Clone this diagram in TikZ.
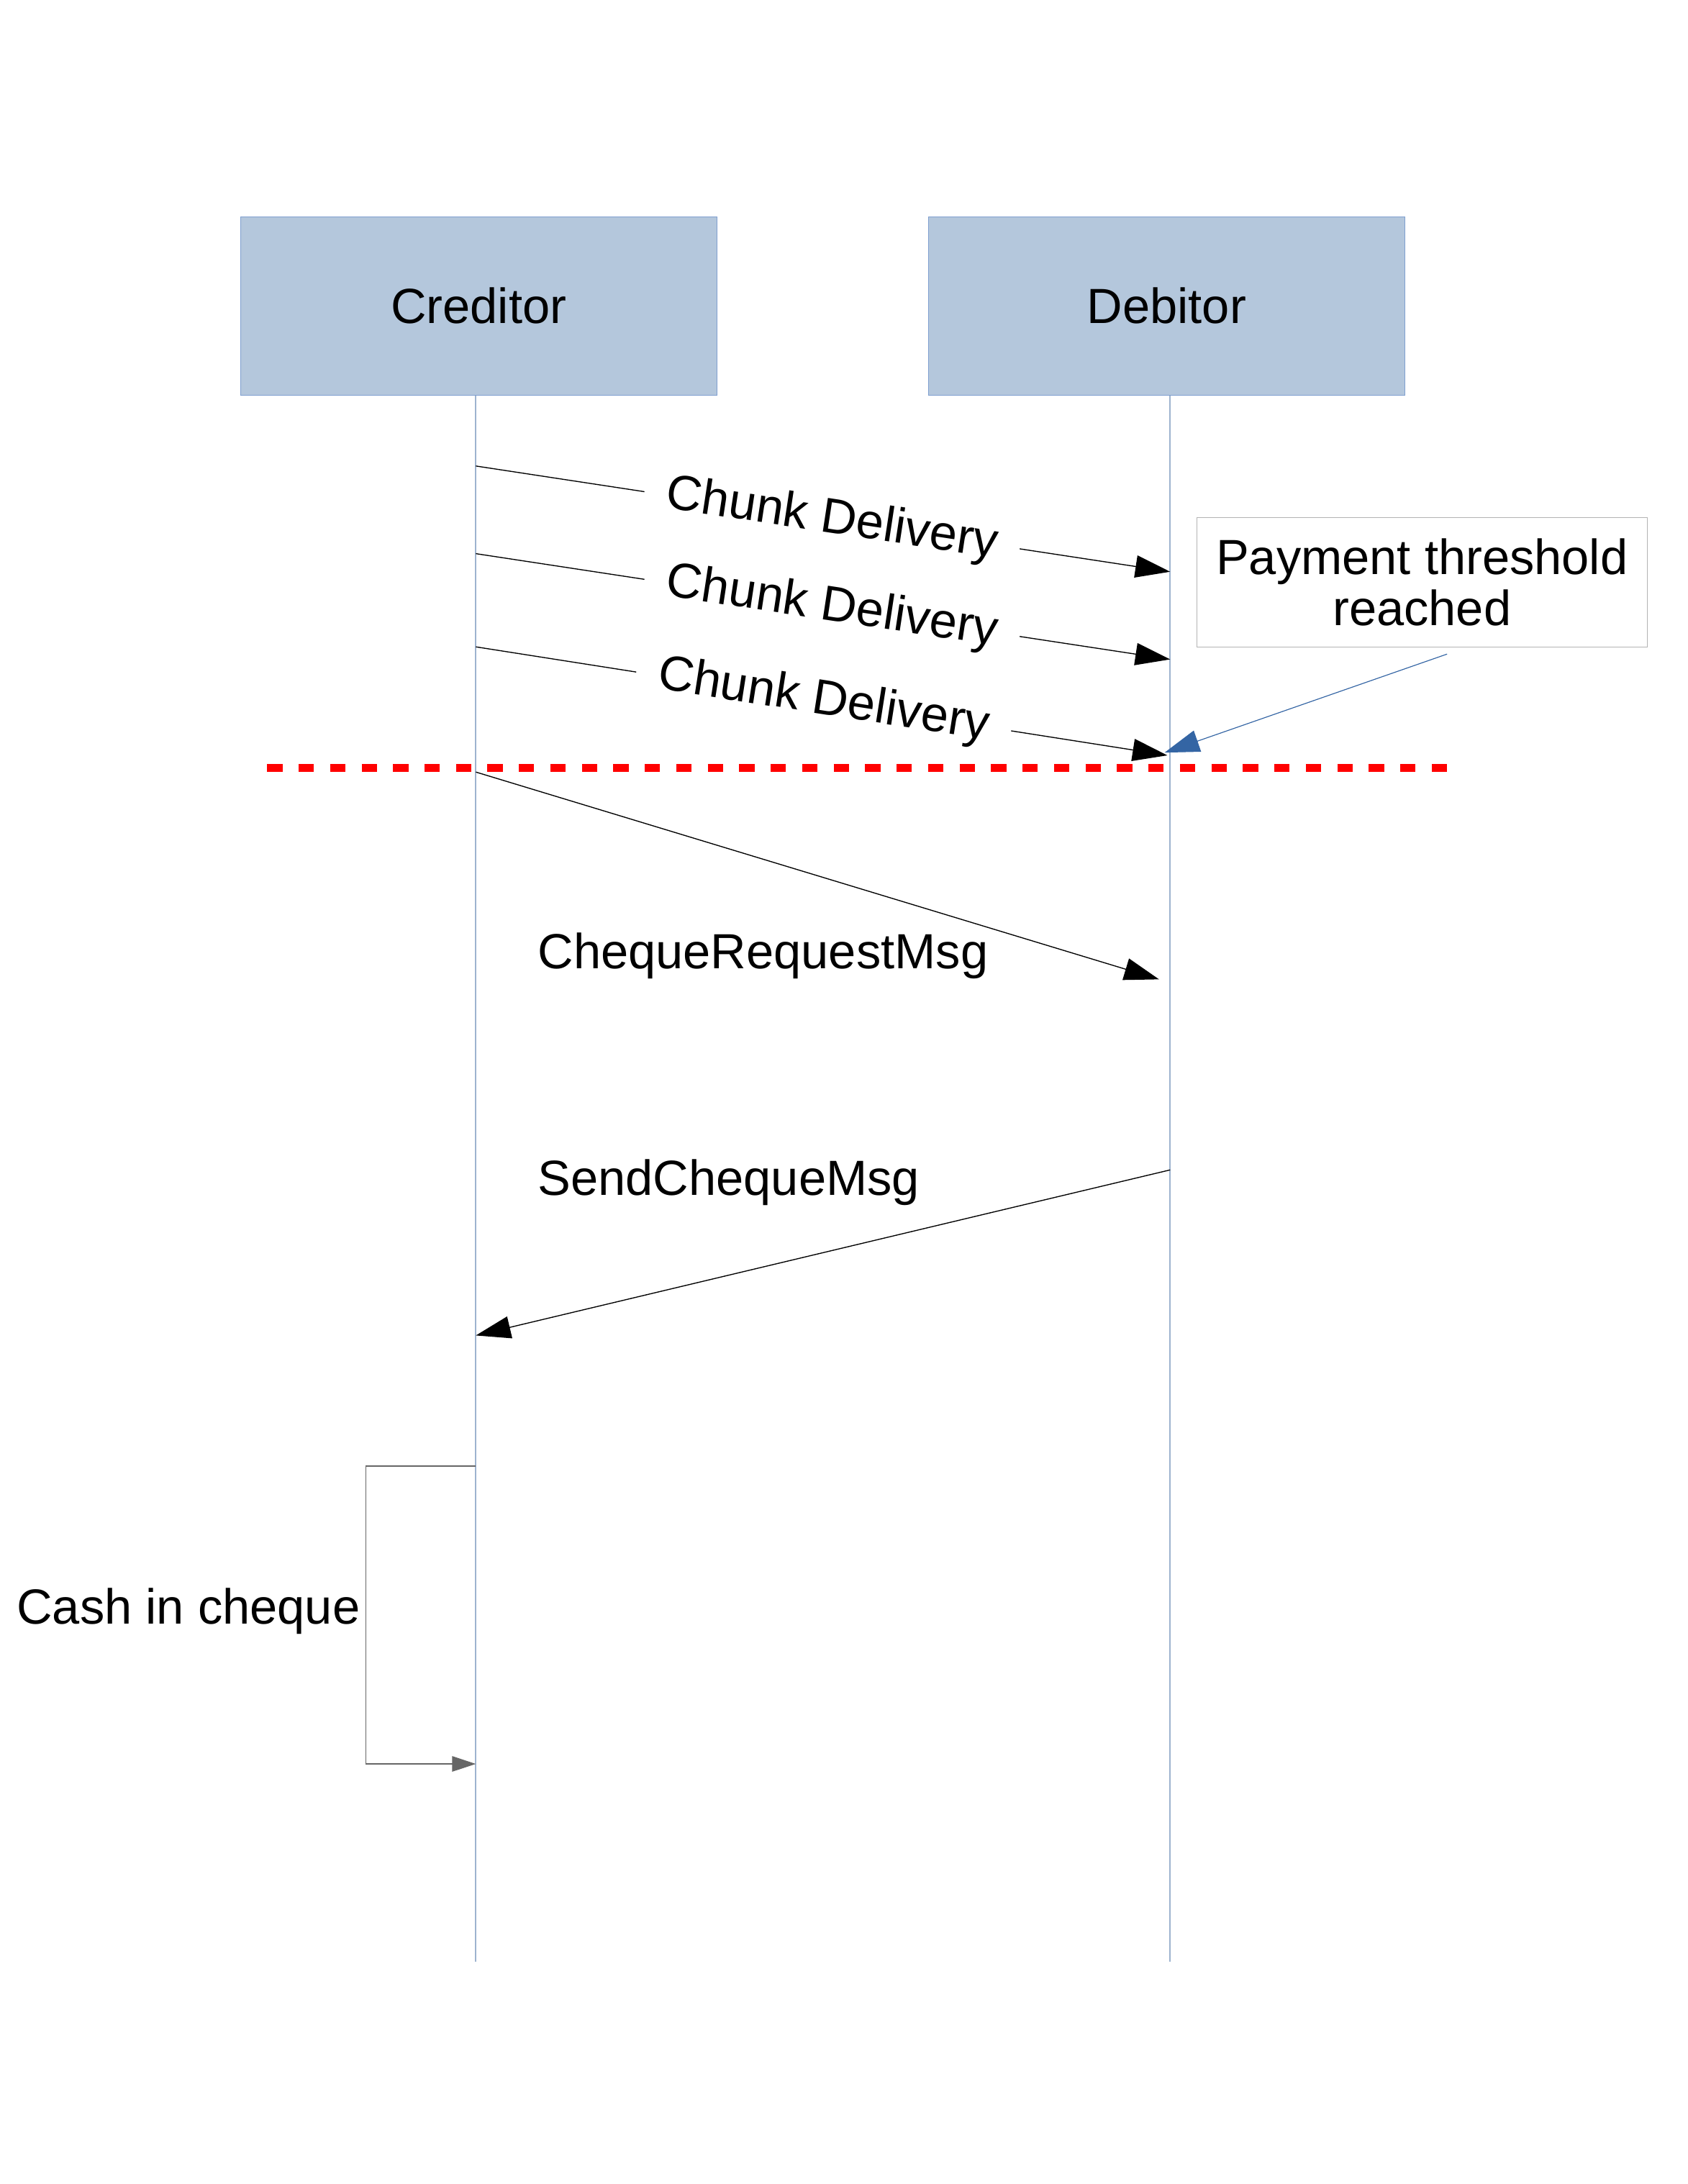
\documentclass[tikz,border=0pt]{standalone}
\usepackage{fontspec}
\setmainfont{Liberation Sans}
\usetikzlibrary{arrows.meta}
\usetikzlibrary{positioning}

\definecolor{actorfill}{HTML}{B4C7DC}
\definecolor{actorline}{HTML}{7F9FCF}
\definecolor{lifecol}{HTML}{9DB3CF}
\definecolor{notecol}{HTML}{B3B3B3}
\definecolor{hintcol}{HTML}{3465A4}
\definecolor{loopcol}{HTML}{666666}

\begin{document}
\begin{tikzpicture}[x=1pt, y=-1pt,
		    every node/.style={font=\fontsize{35.5}{39}\selectfont},
		    actor/.style={draw=actorline, fill=actorfill, minimum width=342pt, minimum height=128pt},
		    lifeline/.style={draw=lifecol, line width=0.9pt},
		    msg/.style={draw=black, line width=0.7pt, -{Triangle[length=25pt,width=16pt]}},
		    chunk/.style={midway, sloped, fill=white, inner xsep=16pt, inner ysep=1pt},
		    selfmsg/.style={draw=loopcol, line width=0.9pt, -{Triangle[length=17pt,width=11pt]}},
		    hint/.style={draw=hintcol, line width=0.6pt, -{Triangle[length=25pt,width=16pt]}, fill=hintcol},
		    cutline/.style={draw=red, line width=6pt, dash pattern=on 11pt off 11.62pt}]

\useasboundingbox (0,0) rectangle (1213,1570);

\node[actor] (cred) at (344,220) {Creditor};
\node[actor, right=152pt of cred] (deb) {Debitor};

\coordinate (credend) at (342,1410);
\coordinate (debend) at (841,1410);
\draw[lifeline] (cred.south -| credend) -- (credend);
\draw[lifeline] (deb.south -| debend) -- (debend);

\node[draw=notecol, minimum width=324pt, minimum height=93pt, align=center, inner sep=2pt]
    (thr) at (1022,418.5) {Payment threshold\\[-2pt]reached};

\coordinate (ca1) at (342,335);  \coordinate (da1) at (841,411);
\coordinate (ca2) at (342,398);  \coordinate (da2) at (841,474);
\coordinate (ca3) at (342,465);  \coordinate (da3) at (839,543);
\draw[msg] (ca1) -- node[chunk, pos=0.513] (chunk1) {Chunk Delivery} (da1);
\draw[msg] (ca2) -- node[chunk, pos=0.513] (chunk2) {Chunk Delivery} (da2);
\draw[msg] (ca3) -- node[chunk, pos=0.503] (chunk3) {Chunk Delivery} (da3);

\coordinate (hitpoint) at (837,541);
\draw[hint] ([xshift=18pt,yshift=-5pt]thr.south) -- (hitpoint);

\coordinate (cutl) at (192,552);
\coordinate (cutr) at (1040,552);
\draw[cutline] (cutl) -- (cutr);

\coordinate (ca4) at (342,555);  \coordinate (da4) at (833,704);
\draw[msg] (ca4) -- (da4);
\node[anchor=west] (reqmsg) at (383,687) {ChequeRequestMsg};

\coordinate (db5) at (841,841);  \coordinate (cb5) at (342,960);
\draw[msg] (db5) -- (cb5);
\node[anchor=west] (sendmsg) at (383,850) {SendChequeMsg};

\coordinate (loopa) at (342,1054);
\coordinate (loopb) at (342,1268);
\draw[selfmsg] (loopa) -- ++(-79,0) |- (loopb);
\node[anchor=east, inner sep=2pt] (cash) at (261,1158) {Cash in cheque};
\end{tikzpicture}
\end{document}
